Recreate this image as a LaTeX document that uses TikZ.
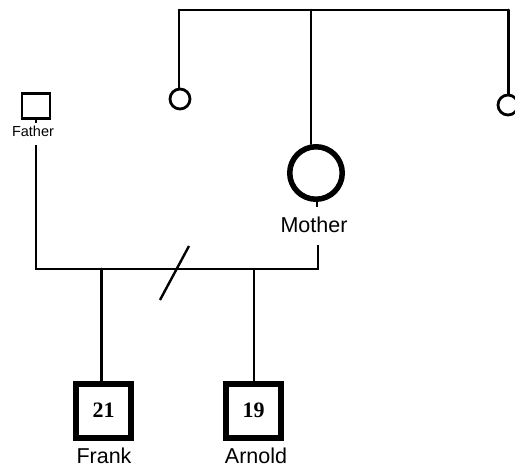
\documentclass[tikz,border=0pt]{standalone}
\usepackage{fontspec}
\setmainfont{Liberation Sans}
\newfontfamily\numfont{Liberation Serif}
\usetikzlibrary{shapes.geometric}
\tikzset{
  link/.style={line width=2.6pt, line cap=round},
  malebox/.style={draw, line width=2.8pt, rectangle, inner sep=0pt, minimum width=28pt, minimum height=25.5pt},
  femalering/.style={draw, line width=2.8pt, circle, inner sep=0pt, minimum size=20pt},
  indexring/.style={draw, line width=5.5pt, circle, inner sep=0pt, minimum size=52.5pt},
  kidbox/.style={draw, line width=6pt, rectangle, inner sep=0pt, minimum width=55pt, minimum height=54pt,
    font=\numfont\bfseries\fontsize{22}{22}\selectfont},
  personlbl/.style={inner sep=0pt, anchor=base, font=\fontsize{21.5}{21.5}\selectfont},
  smalllbl/.style={inner sep=0pt, anchor=base, font=\fontsize{14.5}{14.5}\selectfont}
}
\begin{document}
\begin{tikzpicture}[x=1pt,y=-1pt]
\useasboundingbox (0,0) rectangle (515,468);

% people
\node[malebox] (father) at (36,106) {};
\node[smalllbl] (fatherlbl) at (33,137) {Father};
\node[femalering] (sis1) at (180,99) {};
\node[femalering] (sis2) at (508,105) {};
\node[indexring] (mother) at (316,173) {};
\node[personlbl] (motherlbl) at (314,233) {Mother};
\node[kidbox] (frank) at (103.5,410.7) {21};
\node[kidbox] (arnold) at (253.5,410.7) {19};
\node[personlbl] (franklbl) at (104,463.5) {Frank};
\node[personlbl] (arnoldlbl) at (256,464) {Arnold};

% sibship line of the mother's generation
\coordinate (topL) at (179,10);
\coordinate (topM) at (311,10);
\coordinate (topR) at (508.5,10);
\draw[link] (topL) -- (topR);
\draw[link] (topL) -- (topL |- sis1.north);
\draw[link] (topR) -- (topR |- sis2.north);
\draw[link] (topM) -- (topM |- mother.north);

% short ticks under the symbols
\draw[line width=2pt] (father.south) -- ++(0,3);
\draw[line width=2pt] (mother.south) ++(1,0) -- ++(0,5);

% mating line
\coordinate (fdrop) at (36,145);
\coordinate (mL) at (36,269);
\coordinate (mR) at (318,269);
\coordinate (mdrop) at (318,245);
\draw[link, line cap=butt] (fdrop) -- (mL) -- (mR) -- (mdrop);

% separation slash
\coordinate (slashA) at (160,300);
\coordinate (slashB) at (189,246);
\draw[line width=2.4pt] (slashA) -- (slashB);

% children
\coordinate (dropF) at (101.5,269);
\coordinate (dropA) at (254,269);
\draw[link] (dropF) -- (dropF |- frank.north);
\draw[link] (dropA) -- (dropA |- arnold.north);
\end{tikzpicture}
\end{document}
